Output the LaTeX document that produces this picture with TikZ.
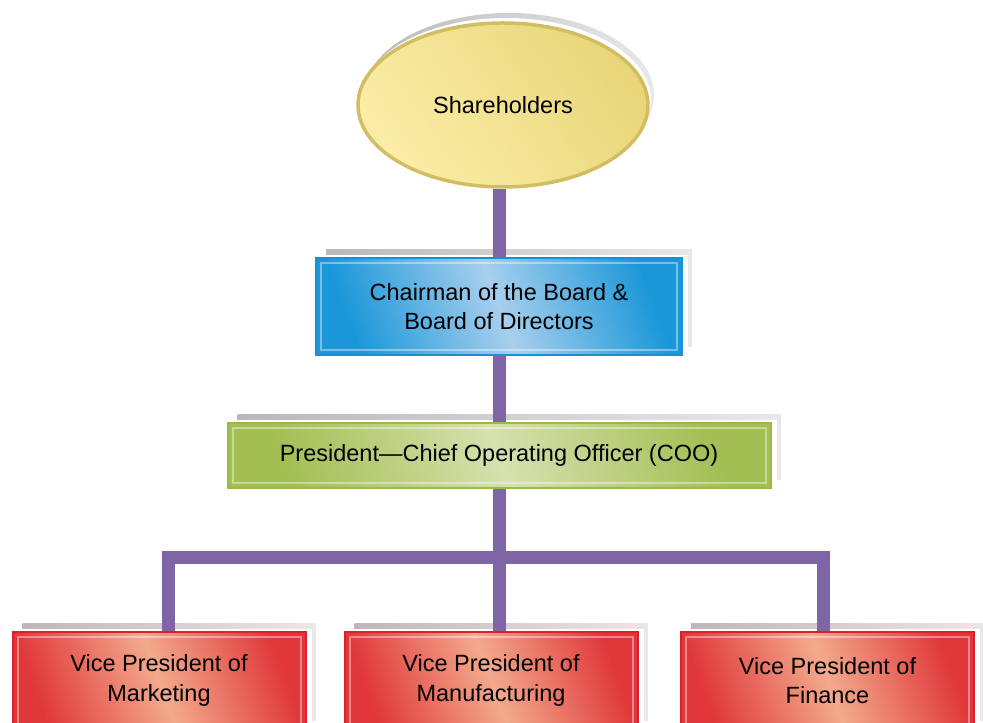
\documentclass[tikz,border=0pt]{standalone}
\usepackage{fontspec}
\setmainfont{Liberation Sans}
\usetikzlibrary{shapes.geometric,shadows}

\definecolor{sunlight}{HTML}{FBEDA6}
\definecolor{sundark}{HTML}{E9D67A}
\definecolor{sunedge}{HTML}{D2BE60}
\definecolor{skylight}{HTML}{A8CFEE}
\definecolor{skydark}{HTML}{1A97D8}
\definecolor{skyedge}{HTML}{1890D4}
\definecolor{leaflight}{HTML}{D6E1AF}
\definecolor{leafdark}{HTML}{A3BE52}
\definecolor{leafedge}{HTML}{9BB947}
\definecolor{bricklight}{HTML}{F3AA8C}
\definecolor{brickdark}{HTML}{E0383A}
\definecolor{brickedge}{HTML}{E01F2E}
\definecolor{linkpurple}{HTML}{7E66A6}

\begin{document}
\begin{tikzpicture}[x=1pt, y=1pt, font=\fontsize{23.5}{29.5}\selectfont]
        \tikzstyle{lift}=[general shadow={shadow xshift=10pt, shadow yshift=8pt, left color=gray!55, right color=gray!18},
                          general shadow={shadow xshift=6pt, shadow yshift=3pt, fill=white}]
        \tikzstyle{bevel}=[path picture={\draw[white, opacity=0.4, line width=2pt] ([shift={(5pt,5pt)}]path picture bounding box.south west) rectangle ([shift={(-5pt,-5pt)}]path picture bounding box.north east);}]
        \tikzstyle{post}=[rectangle, lift, bevel, line width=2pt, inner sep=0pt, align=center]
        \tikzstyle{sun}=[ellipse, general shadow={shadow xshift=6pt, shadow yshift=10pt, left color=gray!55, right color=gray!18},
                         general shadow={shadow xshift=3pt, shadow yshift=5pt, fill=white},
                         draw=sunedge, line width=3.5pt, left color=sunlight, right color=sundark, shading angle=125,
                         minimum width=290pt, minimum height=164pt, inner sep=0pt]
        \tikzstyle{sky}=[post, draw=skyedge, left color=skydark, right color=skydark, middle color=skylight, shading angle=110, minimum width=366pt, minimum height=97pt]
        \tikzstyle{leaf}=[post, draw=leafedge, left color=leafdark, right color=leafdark, middle color=leaflight, shading angle=110, minimum width=543pt, minimum height=65pt]
        \tikzstyle{brick}=[post, draw=brickedge, left color=brickdark, right color=brickdark, middle color=bricklight, shading angle=110, minimum width=293pt, minimum height=97pt]
        \tikzstyle{link}=[draw=linkpurple, line width=13pt]

        \useasboundingbox (0,0) rectangle (983,723);
        \clip (0,0) rectangle (983,723);

        \node[sun] (share) at (503,618) {Shareholders};
        \node[sky, below of=share, node distance=201.5pt, xshift=-4pt] (board) {Chairman of the Board \&\\Board of Directors};
        \node[leaf, below of=board, node distance=149pt] (coo) {President---Chief Operating Officer (COO)};
        \node[brick, below of=coo, node distance=225pt, xshift=-8pt] (vpmfg) {Vice President of\\Manufacturing};
        \node[brick, left of=vpmfg, node distance=332pt] (vpmkt) {Vice President of\\Marketing};
        \node[brick, right of=vpmfg, node distance=336.5pt] (vpfin) {Vice President of\\Finance};

        \coordinate (fork) at ([yshift=-69pt]coo.south);

        \draw[link] (share.south -| board.north) -- (board.north);
        \draw[link] (board) -- (coo);
        \draw[link] (coo) -- (fork);
        \draw[link] ([xshift=9pt]vpmkt.north) |- (fork) -| ([xshift=-4.5pt]vpfin.north);
        \draw[link] (fork) -- (fork |- vpmfg.north);
    \end{tikzpicture}
\end{document}
